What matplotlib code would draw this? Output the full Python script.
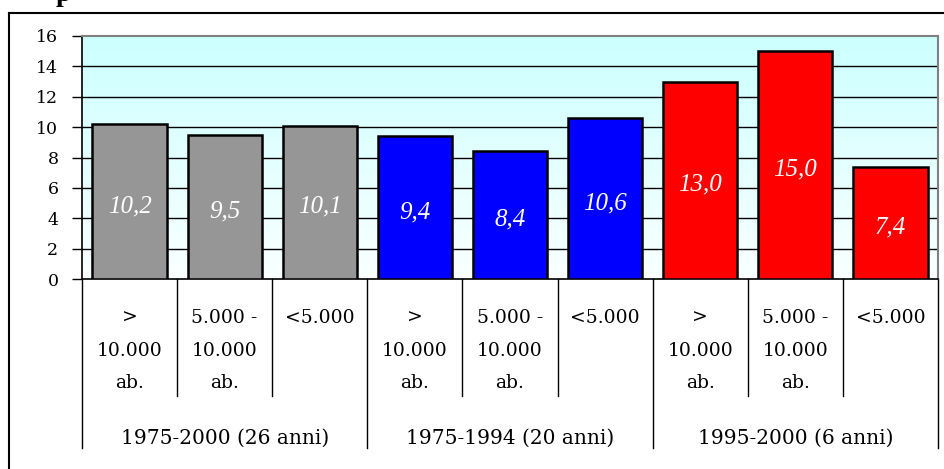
import numpy as np
import matplotlib
matplotlib.use("Agg")
import matplotlib.pyplot as plt
from matplotlib.colors import LinearSegmentedColormap
from matplotlib.lines import Line2D
import matplotlib.transforms as mtransforms

# Values per class of municipality, grouped by period
values = [10.2, 9.5, 10.1, 9.4, 8.4, 10.6, 13.0, 15.0, 7.4]
value_labels = ["10,2", "9,5", "10,1", "9,4", "8,4", "10,6", "13,0", "15,0", "7,4"]
size_classes = [">\n10.000\nab.", "5.000 -\n10.000\nab.", "<5.000"] * 3
periods = ["1975-2000 (26 anni)", "1975-1994 (20 anni)", "1995-2000 (6 anni)"]
period_colors = ["#969696", "#0000FF", "#FF0000"]
y_ticks = [0, 2, 4, 6, 8, 10, 12, 14, 16]

W, H = 945, 469
fig = plt.figure(figsize=(W / 100, H / 100), dpi=100)
fig.patch.set_facecolor("white")

L, R, T, B = 82, 938, 36, 279
ax = fig.add_axes([L / W, 1 - B / H, (R - L) / W, (B - T) / H])

serif = ["DejaVu Serif"]
italic_serif = ["Liberation Serif", "DejaVu Serif"]

# light cyan gradient background
grad = LinearSegmentedColormap.from_list("bg", ["#FAFFFF", "#CCFFFF"])
ax.imshow(np.linspace(0, 1, 256).reshape(-1, 1), cmap=grad, aspect="auto",
          extent=[0, 1, 0, 1], transform=ax.transAxes, origin="lower", zorder=0)

n = len(values)
x = np.arange(n)
colors = [period_colors[i // 3] for i in range(n)]
ax.bar(x, values, width=0.78, color=colors, edgecolor="black", linewidth=1.8, zorder=3)

ax.set_xlim(-0.5, n - 0.5)
ax.set_ylim(0, 16)
ax.set_yticks(y_ticks)
ax.set_yticklabels([str(t) for t in y_ticks], fontfamily=serif, fontsize=12.5)
ax.tick_params(axis="y", direction="out", length=7, width=1, color="black", pad=10)
ax.set_xticks([])

for yv in y_ticks[1:-1]:
    ax.axhline(yv, color="black", linewidth=1, zorder=1)

ax.spines["top"].set_color("#808080")
ax.spines["right"].set_color("#808080")
ax.spines["top"].set_linewidth(1.5)
ax.spines["right"].set_linewidth(1.5)
ax.spines["left"].set_color("black")
ax.spines["bottom"].set_color("black")
ax.spines["left"].set_linewidth(1.2)
ax.spines["bottom"].set_linewidth(1.2)

# value labels inside the bars
off = mtransforms.offset_copy(ax.transData, fig=fig, x=0, y=-4.5, units="dots")
for xi, v, lab in zip(x, values, value_labels):
    ax.text(xi, v / 2, lab, transform=off, ha="center", va="center",
            color="white", fontsize=18, fontstyle="italic", fontfamily=italic_serif,
            zorder=4)

# two-level category axis
bt = ax.get_xaxis_transform()
ph = B - T
def ay(py):
    return (B - py) / ph

for i in range(n - 1):
    if (i + 1) % 3 == 0:
        continue
    ax.add_line(Line2D([i + 0.5, i + 0.5], [0, ay(396)], transform=bt,
                       color="black", linewidth=1, clip_on=False))
for xb in [-0.5, 2.5, 5.5, 8.5]:
    ax.add_line(Line2D([xb, xb], [0, ay(448)], transform=bt,
                       color="black", linewidth=1, clip_on=False))

line_y = [318, 351, 383]
for xi, lab in zip(x, size_classes):
    for k, part in enumerate(lab.split("\n")):
        ax.text(xi, ay(line_y[k]), part, transform=bt, ha="center", va="center",
                fontsize=13.5, fontfamily=serif, clip_on=False)

for g, name in enumerate(periods):
    ax.text(3 * g + 1, ay(438), name, transform=bt, ha="center", va="center",
            fontsize=14.5, fontfamily=serif, clip_on=False)

# outer frame (left and top edges) and the heading above it
fig.add_artist(Line2D([9 / W, 9 / W], [0, 1 - 13 / H], transform=fig.transFigure,
                      color="black", linewidth=1.5))
fig.add_artist(Line2D([9 / W, 1], [1 - 13 / H, 1 - 13 / H], transform=fig.transFigure,
                      color="black", linewidth=1.5))
fig.text(56 / W, 1 - 1 / H, "p", fontsize=20, fontweight="bold",
         fontfamily=["Liberation Serif", "DejaVu Serif"], ha="left", va="baseline")

fig.savefig("out.png", dpi=100, facecolor="white")
